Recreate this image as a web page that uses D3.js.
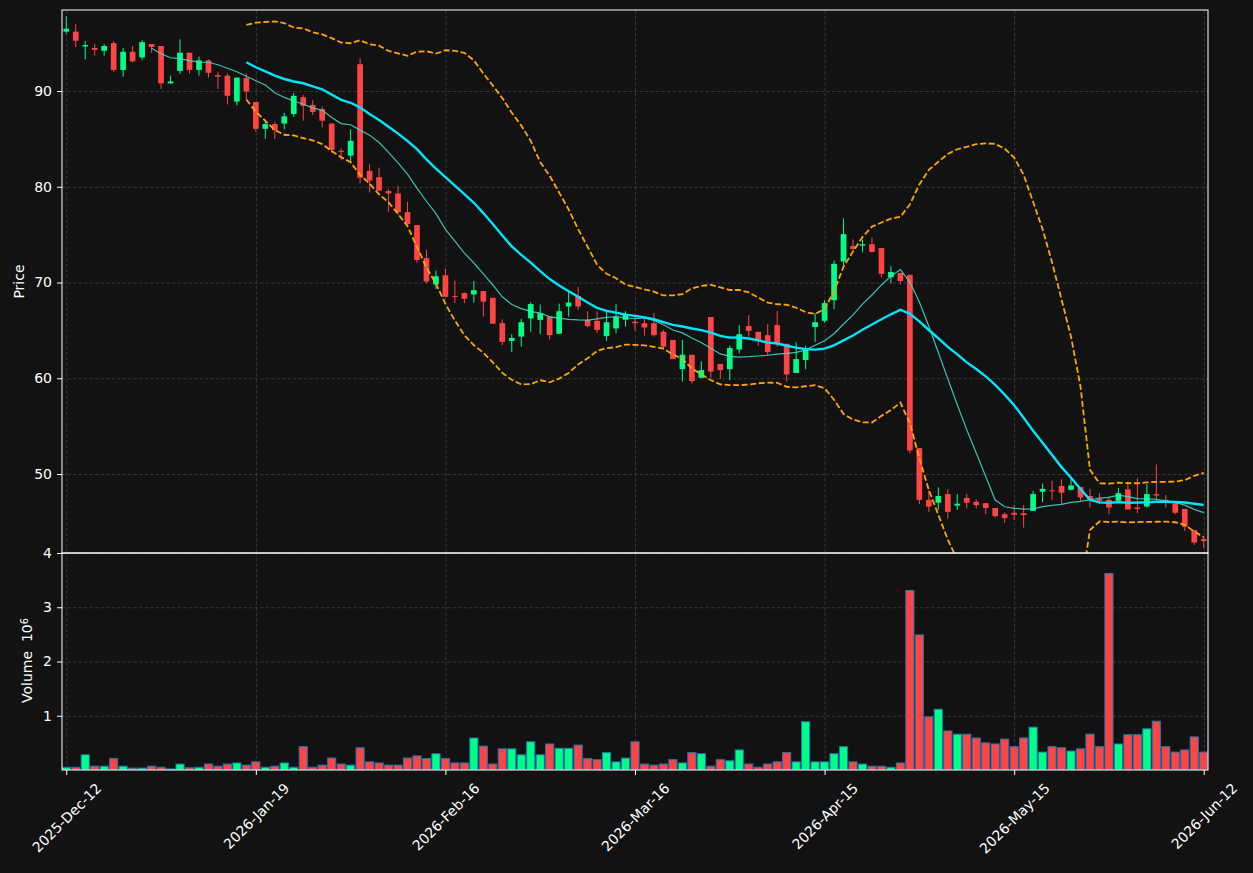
<!DOCTYPE html>
<html>
<head>
<meta charset="utf-8">
<script src="https://cdn.jsdelivr.net/npm/d3@7"></script>
<style>
    html, body { margin: 0; padding: 0; background: #121212; }
    svg text { font-family: "DejaVu Sans", sans-serif; }
</style>
</head>
<body>
<div id="chart"></div>
<script>

// daily OHLC, one entry per session starting 2025-Dec-12
const opens = [96.2, 96.2, 94.65, 94.5, 94.2, 95.0, 92.2, 94.1, 93.5, 94.9,
    94.7, 90.8, 92.1, 94.0, 92.2, 93.2, 91.65, 91.6, 88.9, 91.35,
    88.85, 86.05, 86.55, 86.6, 87.6, 89.35, 88.55, 88.1, 86.6, 83.75,
    83.25, 92.8, 81.65, 81.0, 79.55, 79.3, 77.35, 76.0, 72.55, 69.8,
    70.75, 68.6, 68.9, 68.75, 69.1, 68.4, 65.75, 63.9, 64.35, 66.25,
    66.1, 66.45, 64.65, 67.5, 68.6, 66.1, 66.0, 64.4, 65.2, 66.1,
    65.9, 65.75, 65.75, 64.85, 64.0, 60.95, 62.45, 60.05, 66.4, 61.5,
    60.95, 63.0, 65.45, 64.85, 64.5, 65.55, 63.6, 60.55, 61.9, 65.35,
    66.0, 68.15, 72.2, 73.8, 73.85, 74.0, 73.6, 70.55, 71.0, 70.8,
    52.7, 47.3, 47.0, 47.9, 46.7, 47.5, 47.1, 46.95, 46.45, 45.8,
    45.95, 45.9, 46.15, 48.15, 48.3, 48.75, 48.35, 48.65, 47.7, 47.4,
    47.3, 47.2, 48.4, 46.5, 46.6, 47.9, 47.3, 46.95, 46.35, 44.15,
    43.2];
const highs = [97.8, 97.0, 95.2, 94.9, 94.9, 95.2, 94.5, 94.7, 95.3, 94.9,
    94.7, 91.6, 95.4, 94.0, 93.6, 93.3, 91.95, 91.85, 91.4, 91.85,
    88.85, 87.0, 86.8, 87.7, 89.8, 89.6, 89.05, 88.35, 86.6, 84.0,
    86.0, 93.4, 82.35, 82.0, 79.75, 80.1, 78.4, 76.0, 73.45, 71.25,
    71.45, 70.2, 69.0, 70.15, 69.1, 68.4, 66.15, 64.6, 66.2, 67.95,
    67.7, 66.45, 67.8, 69.05, 69.55, 67.0, 67.0, 67.0, 67.75, 67.0,
    66.45, 66.25, 66.8, 65.05, 64.0, 64.0, 62.45, 61.75, 66.4, 61.5,
    63.4, 65.55, 66.6, 64.85, 65.65, 67.0, 63.6, 63.75, 63.4, 66.8,
    68.15, 72.3, 76.7, 74.5, 74.45, 74.7, 73.6, 71.7, 71.0, 70.8,
    52.7, 48.3, 48.6, 48.4, 47.9, 47.9, 47.35, 46.95, 46.45, 46.0,
    46.75, 46.75, 48.25, 49.0, 49.3, 49.45, 49.6, 48.65, 48.45, 48.0,
    47.65, 48.55, 49.2, 49.55, 48.95, 51.0, 47.8, 46.95, 46.35, 44.15,
    43.45];
const lows = [96.0, 94.6, 93.3, 93.7, 93.7, 92.0, 91.5, 93.0, 93.2, 94.0,
    90.2, 90.75, 91.8, 91.8, 91.6, 91.4, 90.2, 88.6, 88.5, 89.1,
    85.75, 85.0, 85.0, 86.0, 87.3, 86.9, 87.5, 86.2, 83.55, 82.75,
    82.45, 80.35, 79.4, 79.55, 77.4, 77.1, 76.05, 72.05, 69.9, 69.3,
    68.5, 67.85, 67.85, 67.9, 66.45, 65.7, 63.45, 62.75, 63.3, 64.85,
    64.6, 64.05, 64.65, 66.45, 67.15, 65.3, 64.7, 63.9, 64.7, 65.4,
    64.95, 64.45, 64.35, 63.1, 62.0, 59.65, 59.45, 60.05, 60.05, 59.9,
    59.8, 62.6, 64.35, 63.4, 62.4, 63.3, 59.65, 60.55, 60.95, 63.8,
    65.8, 67.2, 71.8, 73.4, 73.15, 73.1, 70.55, 69.9, 69.8, 52.15,
    46.85, 46.05, 46.25, 45.35, 46.25, 46.4, 46.4, 45.8, 45.45, 44.9,
    45.2, 44.4, 46.15, 47.05, 47.3, 46.85, 48.3, 47.2, 46.5, 46.85,
    45.8, 47.0, 46.25, 45.9, 46.5, 47.3, 46.5, 45.8, 44.05, 42.6,
    42.25];
const closes = [96.5, 95.25, 94.8, 94.3, 94.7, 92.2, 94.1, 93.1, 95.1, 94.6,
    90.8, 91.0, 94.0, 92.2, 93.2, 91.9, 91.5, 89.5, 91.4, 89.95,
    86.05, 86.55, 85.9, 87.35, 89.5, 88.45, 87.8, 86.9, 83.85, 83.65,
    84.8, 80.95, 80.65, 79.6, 79.3, 77.35, 76.1, 72.35, 70.1, 70.65,
    68.5, 68.5, 68.3, 69.2, 68.0, 65.7, 63.8, 64.2, 65.85, 67.75,
    66.8, 64.5, 67.0, 67.9, 67.5, 65.45, 65.05, 65.85, 66.45, 66.7,
    65.75, 65.3, 64.5, 63.3, 62.0, 62.45, 59.7, 60.85, 60.7, 60.85,
    63.15, 64.6, 64.95, 64.0, 62.75, 63.65, 60.4, 62.0, 63.15, 65.85,
    67.85, 71.95, 75.05, 73.5, 74.0, 73.2, 70.9, 71.1, 70.15, 52.45,
    47.3, 46.6, 47.7, 46.05, 46.9, 47.0, 46.75, 46.45, 45.6, 45.4,
    45.75, 45.7, 47.9, 48.45, 48.2, 48.05, 48.8, 47.55, 47.3, 47.2,
    46.5, 48.0, 46.3, 46.35, 47.9, 47.75, 47.0, 45.95, 44.5, 42.85,
    43.0];
// volume, millions of shares
const volumes = [0.05, 0.05, 0.28, 0.07, 0.07, 0.21, 0.07, 0.035, 0.035, 0.07,
    0.05, 0.02, 0.11, 0.04, 0.05, 0.11, 0.07, 0.11, 0.13, 0.09,
    0.15, 0.05, 0.07, 0.13, 0.05, 0.43, 0.05, 0.09, 0.22, 0.11,
    0.09, 0.41, 0.15, 0.13, 0.09, 0.09, 0.22, 0.26, 0.21, 0.30,
    0.21, 0.13, 0.13, 0.59, 0.44, 0.11, 0.39, 0.39, 0.28, 0.52,
    0.28, 0.48, 0.40, 0.40, 0.46, 0.21, 0.19, 0.32, 0.15, 0.22,
    0.52, 0.11, 0.09, 0.11, 0.19, 0.13, 0.32, 0.30, 0.07, 0.19,
    0.17, 0.37, 0.11, 0.05, 0.11, 0.15, 0.32, 0.15, 0.89, 0.15,
    0.15, 0.30, 0.43, 0.15, 0.11, 0.07, 0.07, 0.05, 0.13, 3.31,
    2.49, 0.98, 1.12, 0.72, 0.66, 0.66, 0.59, 0.50, 0.48, 0.57,
    0.43, 0.59, 0.79, 0.33, 0.43, 0.41, 0.35, 0.39, 0.66, 0.43,
    3.62, 0.48, 0.65, 0.65, 0.76, 0.90, 0.43, 0.33, 0.37, 0.61,
    0.33];

const tickIdx = [0, 20, 40, 60, 80, 100, 120];
const tickLabels = ["2025-Dec-12", "2026-Jan-19", "2026-Feb-16", "2026-Mar-16",
    "2026-Apr-15", "2026-May-15", "2026-Jun-12"];
const priceTicks = [50, 60, 70, 80, 90];
const volTicks = [1, 2, 3, 4];


class CandleChart {

    constructor(parentElement) {
        this.parentElement = parentElement;
        this.initVis();
    }

    initVis() {
        let vis = this;

        vis.margin = {top: 10, right: 45, bottom: 103, left: 62};
        vis.width = 1253 - vis.margin.left - vis.margin.right;
        vis.priceH = 543;
        vis.volTop = 543;
        vis.volH = 217;

        vis.up = '#00ff88';
        vis.down = '#ff4444';
        vis.fontSize = 14;

        vis.svg = d3.select('#' + vis.parentElement).append('svg')
            .attr('width', 1253)
            .attr('height', 873)
            .style('background', '#121212')
            .append('g')
            .attr('transform', `translate(${vis.margin.left}, ${vis.margin.top})`);

        // scales
        vis.x = d3.scaleLinear()
            .domain([-0.45, closes.length - 1 + 0.45])
            .range([0, vis.width]);
        vis.y = d3.scaleLinear()
            .domain([41.75, 98.46])
            .range([vis.priceH, 0]);
        vis.yVol = d3.scaleLinear()
            .domain([0, 4])
            .range([vis.volTop + vis.volH, vis.volTop]);

        vis.svg.append('clipPath').attr('id', 'clip-price')
            .append('rect').attr('width', vis.width).attr('height', vis.priceH);
        vis.svg.append('clipPath').attr('id', 'clip-vol')
            .append('rect').attr('y', vis.volTop).attr('width', vis.width).attr('height', vis.volH);

        // grids
        let gridStyle = g => {
            g.select('.domain').remove();
            g.selectAll('line').attr('stroke', '#3a3a3a').attr('stroke-width', 0.9)
                .attr('stroke-dasharray', '3.5,2');
        };
        vis.svg.append('g').call(d3.axisLeft(vis.y).tickValues(priceTicks).tickSize(-vis.width).tickFormat(''))
            .call(gridStyle);
        vis.svg.append('g').attr('transform', `translate(0, ${vis.priceH})`)
            .call(d3.axisBottom(vis.x).tickValues(tickIdx).tickSize(-vis.priceH).tickFormat(''))
            .call(gridStyle);
        vis.svg.append('g').call(d3.axisLeft(vis.yVol).tickValues(volTicks).tickSize(-vis.width).tickFormat(''))
            .call(gridStyle);
        vis.svg.append('g').attr('transform', `translate(0, ${vis.volTop + vis.volH})`)
            .call(d3.axisBottom(vis.x).tickValues(tickIdx).tickSize(-vis.volH).tickFormat(''))
            .call(gridStyle);

        vis.priceG = vis.svg.append('g').attr('clip-path', 'url(#clip-price)');
        vis.volG = vis.svg.append('g').attr('clip-path', 'url(#clip-vol)');

        this.wrangleData();
    }

    wrangleData() {
        let vis = this;

        vis.data = closes.map((c, i) => ({
            i: i, open: opens[i], high: highs[i], low: lows[i], close: c, vol: volumes[i]
        }));

        // moving averages and 20-day bollinger bands from the closes
        let rolling = n => closes.map((c, i) => {
            if (i < n - 1) return null;
            let win = closes.slice(i - n + 1, i + 1);
            return {i: i, mean: d3.mean(win), sd: d3.deviation(win)};
        }).filter(d => d);

        vis.ma10 = rolling(10);
        vis.ma20 = rolling(20);

        vis.updateVis();
    }

    updateVis() {
        let vis = this;
        let step = vis.x(1) - vis.x(0);
        let color = d => d.close >= d.open ? vis.up : vis.down;

        // volume bars
        vis.volG.selectAll('.vol')
            .data(vis.data)
            .enter().append('rect')
            .attr('class', 'vol')
            .attr('x', d => vis.x(d.i) - step * 0.43)
            .attr('width', step * 0.86)
            .attr('y', d => vis.yVol(d.vol))
            .attr('height', d => vis.yVol(0) - vis.yVol(d.vol))
            .attr('fill', color)
            .attr('stroke', '#1f77b4')
            .attr('stroke-width', 1);

        // candles
        let candles = vis.priceG.selectAll('.candle')
            .data(vis.data)
            .enter().append('g')
            .attr('class', 'candle');

        candles.append('line')
            .attr('x1', d => vis.x(d.i)).attr('x2', d => vis.x(d.i))
            .attr('y1', d => vis.y(d.high)).attr('y2', d => vis.y(d.low))
            .attr('stroke', color)
            .attr('stroke-width', 1);

        candles.append('rect')
            .attr('x', d => vis.x(d.i) - step * 0.3)
            .attr('width', step * 0.6)
            .attr('y', d => vis.y(Math.max(d.open, d.close)))
            .attr('height', d => Math.max(1, Math.abs(vis.y(d.open) - vis.y(d.close))))
            .attr('fill', color);

        // overlays
        let line = acc => d3.line().x(d => vis.x(d.i)).y(acc);

        vis.priceG.append('path').datum(vis.ma20)
            .attr('d', line(d => vis.y(d.mean + 2 * d.sd)))
            .attr('fill', 'none').attr('stroke', '#ffa500')
            .attr('stroke-width', 1.8).attr('stroke-dasharray', '6,2.6');
        vis.priceG.append('path').datum(vis.ma20)
            .attr('d', line(d => vis.y(d.mean - 2 * d.sd)))
            .attr('fill', 'none').attr('stroke', '#ffa500')
            .attr('stroke-width', 1.8).attr('stroke-dasharray', '6,2.6');
        vis.priceG.append('path').datum(vis.ma10)
            .attr('d', line(d => vis.y(d.mean)))
            .attr('fill', 'none').attr('stroke', '#40e0d0')
            .attr('stroke-opacity', 0.85).attr('stroke-width', 1.2);
        vis.priceG.append('path').datum(vis.ma20)
            .attr('d', line(d => vis.y(d.mean)))
            .attr('fill', 'none').attr('stroke', '#00e5ff')
            .attr('stroke-width', 2.4);

        // axes
        let axisStyle = g => {
            g.select('.domain').remove();
            g.selectAll('line').attr('stroke', '#ffffff');
            g.selectAll('text').attr('fill', '#ffffff').style('font-size', vis.fontSize + 'px')
                .style('font-family', '"DejaVu Sans", sans-serif');
        };

        vis.svg.append('g')
            .call(d3.axisLeft(vis.y).tickValues(priceTicks).tickSize(5).tickPadding(5))
            .call(axisStyle);
        vis.svg.append('g')
            .call(d3.axisLeft(vis.yVol).tickValues(volTicks).tickSize(5).tickPadding(5)
                .tickFormat(d3.format('d')))
            .call(axisStyle);

        let xAxis = vis.svg.append('g')
            .attr('transform', `translate(0, ${vis.volTop + vis.volH})`)
            .call(d3.axisBottom(vis.x).tickValues(tickIdx).tickSize(5)
                .tickFormat((d, i) => tickLabels[i]))
            .call(axisStyle);

        // 45 degree labels, box centred on the tick
        xAxis.selectAll('text').each(function () {
            let t = d3.select(this);
            let len = this.getComputedTextLength();
            let ext = 0.7071 * (len + vis.fontSize * 1.15);
            let cy = 10 + ext / 2;
            t.attr('x', 0).attr('y', cy).attr('dy', '0.35em')
                .attr('text-anchor', 'middle')
                .attr('transform', `rotate(-45, 0, ${cy})`);
        });

        // spines
        vis.svg.append('rect')
            .attr('width', vis.width).attr('height', vis.priceH)
            .attr('fill', 'none').attr('stroke', '#ffffff').attr('stroke-width', 1);
        vis.svg.append('rect')
            .attr('y', vis.volTop).attr('width', vis.width).attr('height', vis.volH)
            .attr('fill', 'none').attr('stroke', '#ffffff').attr('stroke-width', 1);

        // axis titles
        vis.svg.append('text')
            .attr('transform', `translate(${24 - vis.margin.left}, ${vis.priceH / 2}) rotate(-90)`)
            .attr('text-anchor', 'middle')
            .attr('fill', '#ffffff')
            .style('font-size', vis.fontSize + 'px')
            .text('Price');

        let vt = vis.svg.append('text')
            .attr('transform', `translate(${32 - vis.margin.left}, ${vis.volTop + vis.volH / 2 - 1}) rotate(-90)`)
            .attr('text-anchor', 'middle')
            .attr('fill', '#ffffff')
            .style('font-size', vis.fontSize + 'px')
            .style('white-space', 'pre');
        vt.append('tspan').text('Volume  10');
        vt.append('tspan').attr('dy', '-0.45em').style('font-size', (vis.fontSize * 0.7) + 'px').text('6');
    }
}

new CandleChart('chart');

</script>
</body>
</html>
